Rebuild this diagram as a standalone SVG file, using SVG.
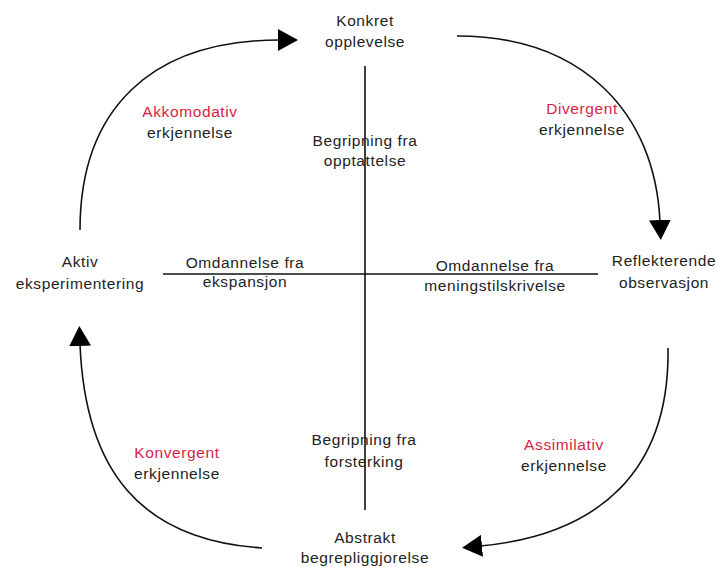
<svg xmlns="http://www.w3.org/2000/svg" width="717" height="567" viewBox="0 0 717 567">
<style>
text{font-family:"Liberation Sans",Arial,sans-serif;font-size:15.5px;letter-spacing:0.6px;fill:#222;text-anchor:middle}
.r{fill:#d81e45}
.c{fill:none;stroke:#111;stroke-width:1.6}
.ax{stroke:#111;stroke-width:1.6}
</style>
<defs>
<marker id="ah" viewBox="0 0 10 10" refX="1" refY="5" markerWidth="20" markerHeight="22" markerUnits="userSpaceOnUse" orient="auto" preserveAspectRatio="none">
<path d="M0,0 L10,5 L0,10 Z" fill="#000"/>
</marker>
</defs>
<g id="connectors">
<line class="ax" x1="365" y1="66" x2="365" y2="510"/>
<line class="ax" x1="163" y1="274" x2="598" y2="274"/>
<path class="c" d="M80,230 C80,110 150,40 280,40" marker-end="url(#ah)"/>
<path class="c" d="M457,36 C580,36 655,110 660,222" marker-end="url(#ah)"/>
<path class="c" d="M668,348 C670,470 600,535 480,546" marker-end="url(#ah)"/>
<path class="c" d="M262,548 C140,540 85,470 80,344" marker-end="url(#ah)"/>
</g>
<g id="konkret"><text x="365" y="26">Konkret</text><text x="365" y="47">opplevelse</text></g>
<g id="aktiv"><text x="80" y="267">Aktiv</text><text x="80" y="289">eksperimentering</text></g>
<g id="reflekterende"><text x="664" y="266">Reflekterende</text><text x="664" y="288">observasjon</text></g>
<g id="abstrakt"><text x="365" y="543">Abstrakt</text><text x="365" y="563">begrepliggjorelse</text></g>
<g id="begripning-top"><text x="365" y="146">Begripning fra</text><text x="365" y="166">opptattelse</text></g>
<g id="begripning-bottom"><text x="364" y="445">Begripning fra</text><text x="364" y="467">forsterking</text></g>
<g id="omdannelse-left"><text x="245" y="268">Omdannelse fra</text><text x="245" y="287">ekspansjon</text></g>
<g id="omdannelse-right"><text x="495" y="271">Omdannelse fra</text><text x="495" y="291">meningstilskrivelse</text></g>
<g id="akkomodativ"><text class="r" x="190" y="117">Akkomodativ</text><text x="190" y="138">erkjennelse</text></g>
<g id="divergent"><text class="r" x="582" y="114">Divergent</text><text x="582" y="135">erkjennelse</text></g>
<g id="konvergent"><text class="r" x="177" y="458">Konvergent</text><text x="177" y="479">erkjennelse</text></g>
<g id="assimilativ"><text class="r" x="564" y="450">Assimilativ</text><text x="564" y="471">erkjennelse</text></g>
</svg>
